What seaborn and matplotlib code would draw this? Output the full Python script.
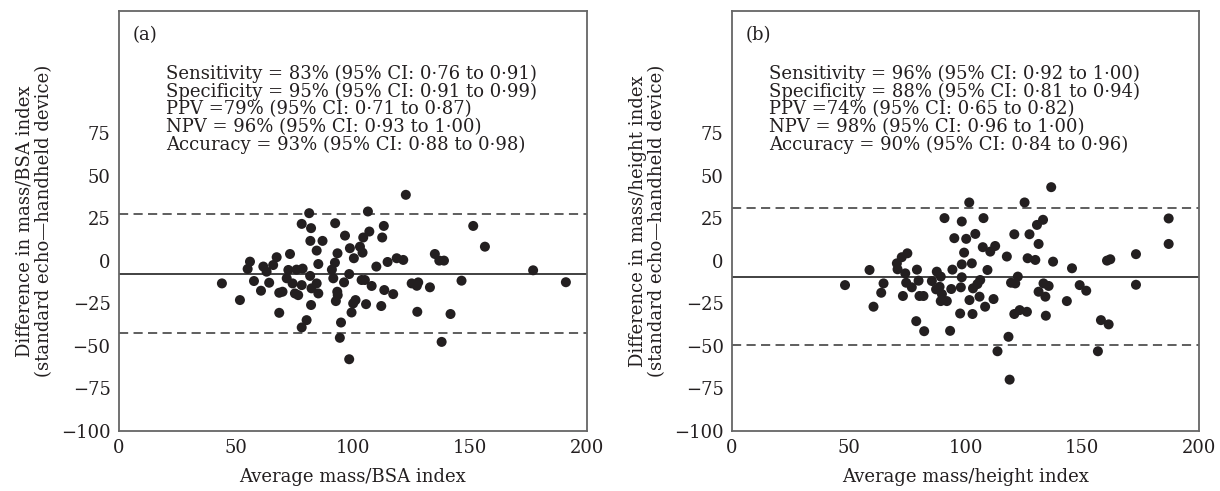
import numpy as np
import pandas as pd
import matplotlib
matplotlib.use("Agg")
import matplotlib.pyplot as plt
import seaborn as sns

# ---------------- data ----------------
a_x = [44.0, 51.7, 56.0, 55.0, 57.7, 60.7, 61.7, 63.1, 64.2, 65.9, 67.4, 68.5, 69.9, 68.5,
       73.1, 72.4, 71.7, 74.2, 75.2, 76.6, 75.9, 78.5, 78.1, 78.1, 81.3, 82.1, 81.8, 84.5,
       81.7, 82.3, 82.1, 80.2, 78.1, 85.2, 85.2, 84.5,
       87.0, 92.4, 96.6, 93.4, 92.3, 91.0, 91.6, 96.2, 98.4, 98.7, 100.4, 103.0, 104.1, 104.4,
       107.0, 106.4, 93.3, 93.5, 92.7, 94.9, 94.4, 98.4, 99.4, 100.1, 101.1, 103.7, 105.1,
       108.0, 105.6, 110.0, 112.5, 113.2, 114.8, 113.4, 112.1, 117.2, 118.7, 121.5, 122.6,
       125.1, 127.9, 127.3, 127.5, 132.9, 135.0, 136.9, 138.9, 137.9, 141.7, 146.4, 151.4,
       156.4, 177.0, 191.0]
a_y = [-13.2, -23.0, -0.4, -4.7, -11.8, -17.5, -3.3, -6.3, -12.8, -2.4, 2.2, -18.7, -18.1, -30.5,
       4.1, -5.3, -10.2, -13.2, -19.1, -20.1, -5.1, -4.5, -14.2, 21.8, 28.1, 19.3, 11.8, 6.1,
       -8.8, -16.1, -25.9, -34.8, -39.1, -1.8, -19.1, -13.2,
       11.8, 22.2, 14.9, 4.5, -1.0, -5.1, -10.2, -12.6, -7.7, 7.5, 1.6, 8.4, 4.9, 13.8,
       17.3, 29.1, -18.1, -20.1, -23.6, -36.2, -45.2, -57.8, -30.3, -25.0, -23.0, -11.2, -11.2,
       -14.7, -25.4, -3.3, 13.8, 20.6, -0.6, -17.1, -26.5, -19.5, 1.6, 0.6, 38.9,
       -13.2, -12.6, -14.6, -29.9, -15.5, 4.1, 0.2, 0.2, -47.6, -31.2, -11.6, 20.6,
       8.4, -5.5, -12.5]

b_x = [48.4, 58.9, 60.6, 63.9, 64.9,
       70.6, 70.9, 72.7, 75.1, 74.2, 74.6, 77.0, 73.2, 79.2, 79.9, 80.3, 82.0, 78.9, 82.3,
       85.6, 87.7, 89.4, 87.4, 88.9, 89.9, 89.4, 92.0, 91.0, 95.2, 94.4, 93.9, 93.4, 97.7,
       98.4, 101.6, 100.3, 104.2, 99.4, 98.4, 102.7, 98.4, 98.0, 103.2, 101.7, 103.0, 105.1,
       106.3, 106.0, 108.4, 107.7, 107.4, 110.6, 112.7, 109.4, 112.0, 117.7, 113.7, 118.4,
       118.9, 119.5, 121.3, 122.4, 120.9, 123.2, 126.3, 120.9, 125.3, 127.4, 126.6, 129.9,
       131.3, 130.6, 133.2, 136.7, 131.3, 133.4, 135.6, 134.2, 134.4, 137.5, 143.4, 145.6,
       148.9, 151.7, 156.7, 158.0, 161.3, 160.6, 162.0, 173.0, 173.0, 187.0, 187.0]
b_y = [-14.2, -5.3, -26.9, -18.7, -13.2,
       -1.4, -4.9, 2.2, 4.5, -7.3, -12.8, -15.5, -20.6, -5.1, -11.6, -20.6, -20.6, -35.4, -41.3,
       -11.8, -6.3, -9.2, -16.7, -15.2, -19.5, -23.6, -23.6, 25.2, 13.4, -5.1, -16.5, -41.1, -30.9,
       23.2, 34.4, 13.0, 15.9, 4.9, -2.0, -1.4, -9.6, -15.5, -16.1, -23.0, -31.2, -13.6,
       -11.2, -21.0, -26.9, 25.2, 8.1, 5.5, 8.8, -5.3, -22.4, 2.6, -53.1, -44.6,
       -69.8, -12.8, -13.2, -9.2, -31.2, -28.9, -29.9, 15.7, 34.4, 15.7, 1.6, 0.6,
       10.0, 21.2, 24.2, 43.4, -18.1, -13.2, -14.7, -21.0, -32.2, -0.4, -23.6, -4.3,
       -14.2, -17.5, -53.1, -34.8, -37.3, 0.2, 1.0, 4.0, -14.0, 25.0, 10.0]

a_lines = [-7.6, 27.5, -42.5]   # mean, upper LoA, lower LoA
b_lines = [-9.2, 31.1, -49.5]

x_ticks = [0, 50, 100, 150, 200]
y_ticks = [-100, -75, -50, -25, 0, 25, 50, 75]
y_tick_labels = ["\u2212100", "\u221275", "\u221250", "\u221225", "0", "25", "50", "75"]

a_text = ["Sensitivity = 83% (95% CI: 0\u00b776 to 0\u00b791)",
          "Specificity = 95% (95% CI: 0\u00b791 to 0\u00b799)",
          "PPV =79% (95% CI: 0\u00b771 to 0\u00b787)",
          "NPV = 96% (95% CI: 0\u00b793 to 1\u00b700)",
          "Accuracy = 93% (95% CI: 0\u00b788 to 0\u00b798)"]
b_text = ["Sensitivity = 96% (95% CI: 0\u00b792 to 1\u00b700)",
          "Specificity = 88% (95% CI: 0\u00b781 to 0\u00b794)",
          "PPV =74% (95% CI: 0\u00b765 to 0\u00b782)",
          "NPV = 98% (95% CI: 0\u00b796 to 1\u00b700)",
          "Accuracy = 90% (95% CI: 0\u00b784 to 0\u00b796)"]

panels = [
    dict(x=a_x, y=a_y, lines=a_lines, text=a_text, tag="(a)", text_x=20,
         xlabel="Average mass/BSA index",
         ylabel="Difference in mass/BSA index\n(standard echo\u2014handheld device)"),
    dict(x=b_x, y=b_y, lines=b_lines, text=b_text, tag="(b)", text_x=16,
         xlabel="Average mass/height index",
         ylabel="Difference in mass/height index\n(standard echo\u2014handheld device)"),
]

# ---------------- style ----------------
sns.set_theme(style="white")
plt.rcParams["font.family"] = ["DejaVu Serif"]
plt.rcParams["mathtext.fontset"] = "dejavuserif"

fig = plt.figure(figsize=(12.2, 4.91), dpi=100)
positions = [[0.0975, 0.1222, 0.3836, 0.8554], [0.6, 0.1222, 0.3828, 0.8554]]

dot_color = "#231f20"
text_color = "#231f20"
fs_tick = 13
fs_text = 13

for pos, p in zip(positions, panels):
    ax = fig.add_axes(pos)
    df = pd.DataFrame({"avg": p["x"], "diff": p["y"]})
    sns.scatterplot(data=df, x="avg", y="diff", ax=ax, color=dot_color, s=52,
                    edgecolor="none", linewidth=0, zorder=3)
    mean, up, lo = p["lines"]
    ax.axhline(mean, color="#333333", lw=1.3, zorder=2)
    ax.axhline(up, color="#333333", lw=1.1, ls=(0, (6, 3.5)), zorder=2)
    ax.axhline(lo, color="#333333", lw=1.1, ls=(0, (6, 3.5)), zorder=2)

    ax.set_xlim(0, 200)
    ax.set_ylim(-100, 147)
    ax.set_xticks(x_ticks)
    ax.set_yticks(y_ticks)
    ax.set_yticklabels(y_tick_labels)
    ax.tick_params(direction="in", length=10, width=1.0, color="#333333",
                   labelsize=fs_tick, labelcolor=text_color, pad=6)
    for s in ax.spines.values():
        s.set_color("#666666")
        s.set_linewidth(1.3)
    ax.set_xlabel(p["xlabel"], fontsize=fs_tick, color=text_color, labelpad=8)
    ax.set_ylabel(p["ylabel"], fontsize=fs_tick, color=text_color, labelpad=6,
                  linespacing=1.05)

    ax.text(6, 133, p["tag"], fontsize=fs_text, color=text_color, va="center", ha="left")
    # va='baseline' anchors the last line (Accuracy)
    ax.text(p["text_x"], 65.4, "\n".join(p["text"]), fontsize=fs_text, color=text_color,
            ha="left", va="baseline", linespacing=0.97)

fig.savefig("out.png", dpi=100)
